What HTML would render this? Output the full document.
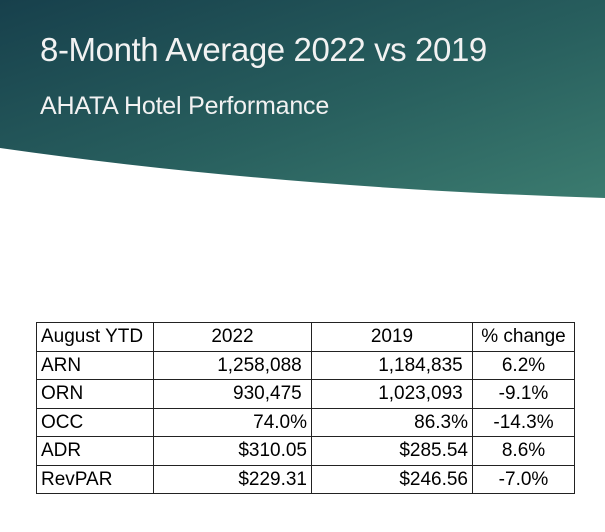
<!DOCTYPE html>
<html><head><style>
body{margin:0;width:605px;height:532px;background:#fff;position:relative;overflow:hidden;font-family:"Liberation Sans",sans-serif}
svg.bg{position:absolute;left:0;top:0}
.t1{position:absolute;left:40px;top:31px;color:#f2f2f2;font-size:33px;letter-spacing:-0.4px;font-weight:300}
.t2{position:absolute;left:40px;top:92px;color:#f2f2f2;font-size:25px;letter-spacing:-0.2px}
table{position:absolute;left:36px;top:322px;border-collapse:collapse;font-size:19px;color:#000}
td{border:1.5px solid #222;height:27.5px;padding:0 4px;line-height:27px}
</style></head><body>
<svg class="bg" width="605" height="210">
<defs><linearGradient id="g" x1="0" y1="0" x2="1" y2="1">
<stop offset="0" stop-color="#17404c"/><stop offset="0.55" stop-color="#285f5e"/><stop offset="1" stop-color="#3b7b6f"/></linearGradient></defs>
<path d="M0 0H605V198Q280 188 0 148Z" fill="url(#g)"/>
</svg>
<div class="t1">8-Month Average 2022 vs 2019</div>
<div class="t2">AHATA Hotel Performance</div>
<table>
<tr><td style="width:108px">August YTD</td><td style="width:149px;text-align:center">2022</td><td style="width:152px;text-align:center">2019</td><td style="width:93px;text-align:center">% change</td></tr>
<tr><td>ARN</td><td style="text-align:right">1,258,088&nbsp;</td><td style="text-align:right">1,184,835&nbsp;</td><td style="text-align:center">6.2%</td></tr>
<tr><td>ORN</td><td style="text-align:right">930,475&nbsp;</td><td style="text-align:right">1,023,093&nbsp;</td><td style="text-align:center">-9.1%</td></tr>
<tr><td>OCC</td><td style="text-align:right">74.0%</td><td style="text-align:right">86.3%</td><td style="text-align:center">-14.3%</td></tr>
<tr><td>ADR</td><td style="text-align:right">$310.05</td><td style="text-align:right">$285.54</td><td style="text-align:center">8.6%</td></tr>
<tr><td>RevPAR</td><td style="text-align:right">$229.31</td><td style="text-align:right">$246.56</td><td style="text-align:center">-7.0%</td></tr>
</table>
</body></html>
